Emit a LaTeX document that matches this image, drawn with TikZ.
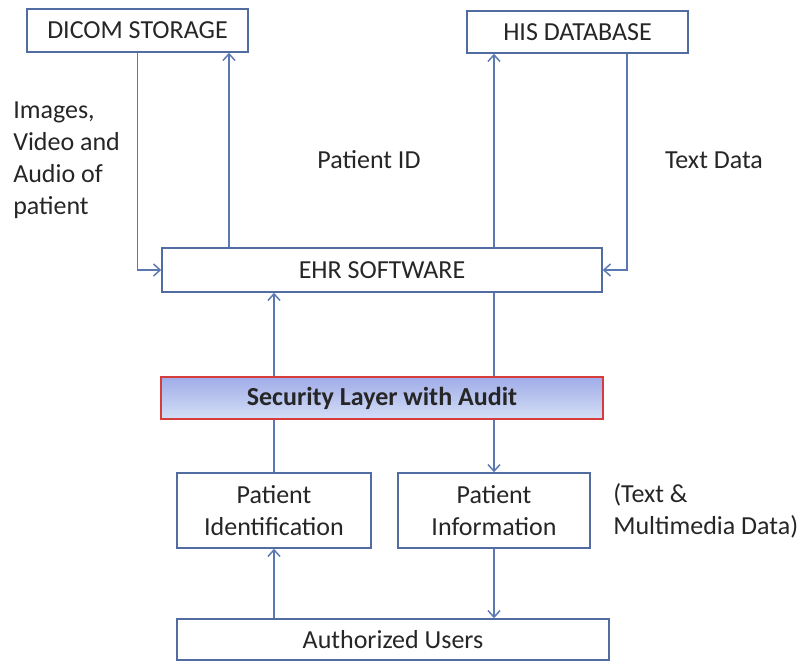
\documentclass[tikz,border=0pt]{standalone}
\usepackage{fontspec}
\setmainfont{Carlito}
\usepackage{tikz}
\usetikzlibrary{calc,positioning,arrows,arrows.meta}
\definecolor{boxblue}{RGB}{80,108,160}
\definecolor{lineblue}{RGB}{92,120,178}
\definecolor{secred}{RGB}{215,60,60}
\definecolor{sectop}{RGB}{160,172,232}
\definecolor{secbot}{RGB}{212,222,246}
\tikzset{
    block/.style={rectangle, draw=boxblue, line width=1.1pt, text centered, text=black!85, inner sep=0pt},
    sec_block/.style={block, draw=secred, top color=sectop, bottom color=secbot, font=\fontsize{19.5}{24}\selectfont\bfseries},
    line/.style={-{Straight Barb[length=5pt,width=9pt]}, draw=lineblue, line width=1.1pt},
    plain/.style={-, draw=lineblue, line width=1.1pt},
    label_text/.style={text=black!85, inner sep=0pt},
}

\begin{document}
\begin{tikzpicture}
        [x=0.75pt, y=-0.75pt, font=\fontsize{19.5}{24}\selectfont]

        \useasboundingbox (0,0) rectangle (808,662);

        % Storage nodes
        \node[block, minimum width=165.75pt, minimum height=32.25pt] (dicom) at (137.5,30.5) {DICOM STORAGE};
        \node[block, minimum width=165.75pt, minimum height=31.5pt] (his) at (577.5,32) {HIS DATABASE};

        % Middle layers
        \node[block, minimum width=330pt, minimum height=33pt] (ehr) at (382,270) {EHR SOFTWARE};
        \node[sec_block, minimum width=331.5pt, minimum height=31.5pt] (sec) at (382,398) {Security Layer with Audit};

        % Patient boxes
        \node[block, minimum width=145.5pt, minimum height=56.25pt, align=center] (pid) at (274,510.5) {Patient\\Identification};
        \node[block, minimum width=144pt, minimum height=56.25pt, align=center] (pinfo) at (494,510.5) {Patient\\Information};
        \node[block, minimum width=324pt, minimum height=30.75pt] (users) at (393,639.5) {Authorized Users};

        % Labels
        \node[label_text, anchor=west, align=left] (imglbl) at (13,160) {Images,\\Video and\\Audio of\\patient};
        \node[label_text] (idlbl) at (369,160) {Patient ID};
        \node[label_text] (txtlbl) at (714,160) {Text Data};
        \node[label_text, anchor=west, align=left] (mmlbl) at (613,511) {(Text \&\\Multimedia Data)};

        % Storage arrows
        \draw[line] (dicom.south) |- (ehr.west);
        \draw[line] ($(ehr.north)+(-153,0)$) -- ($(dicom.south)+(91.5,0)$);
        \draw[line] ($(ehr.north)+(112,0)$) -- ($(his.south)+(-83.5,0)$);
        \draw[line] ($(his.south)+(49.5,0)$) |- (ehr.east);

        % Through the security layer
        \draw[line] (pid.north |- sec.north) -- (pid.north |- ehr.south);
        \draw[plain] (pinfo.north |- ehr.south) -- (pinfo.north |- sec.north);
        \draw[plain] (pid.north) -- (pid.north |- sec.south);
        \draw[line] (pinfo.north |- sec.south) -- (pinfo.north);

        % Users
        \draw[line] (pid.south |- users.north) -- (pid.south);
        \draw[line] (pinfo.south) -- (pinfo.south |- users.north);
    \end{tikzpicture}
\end{document}
